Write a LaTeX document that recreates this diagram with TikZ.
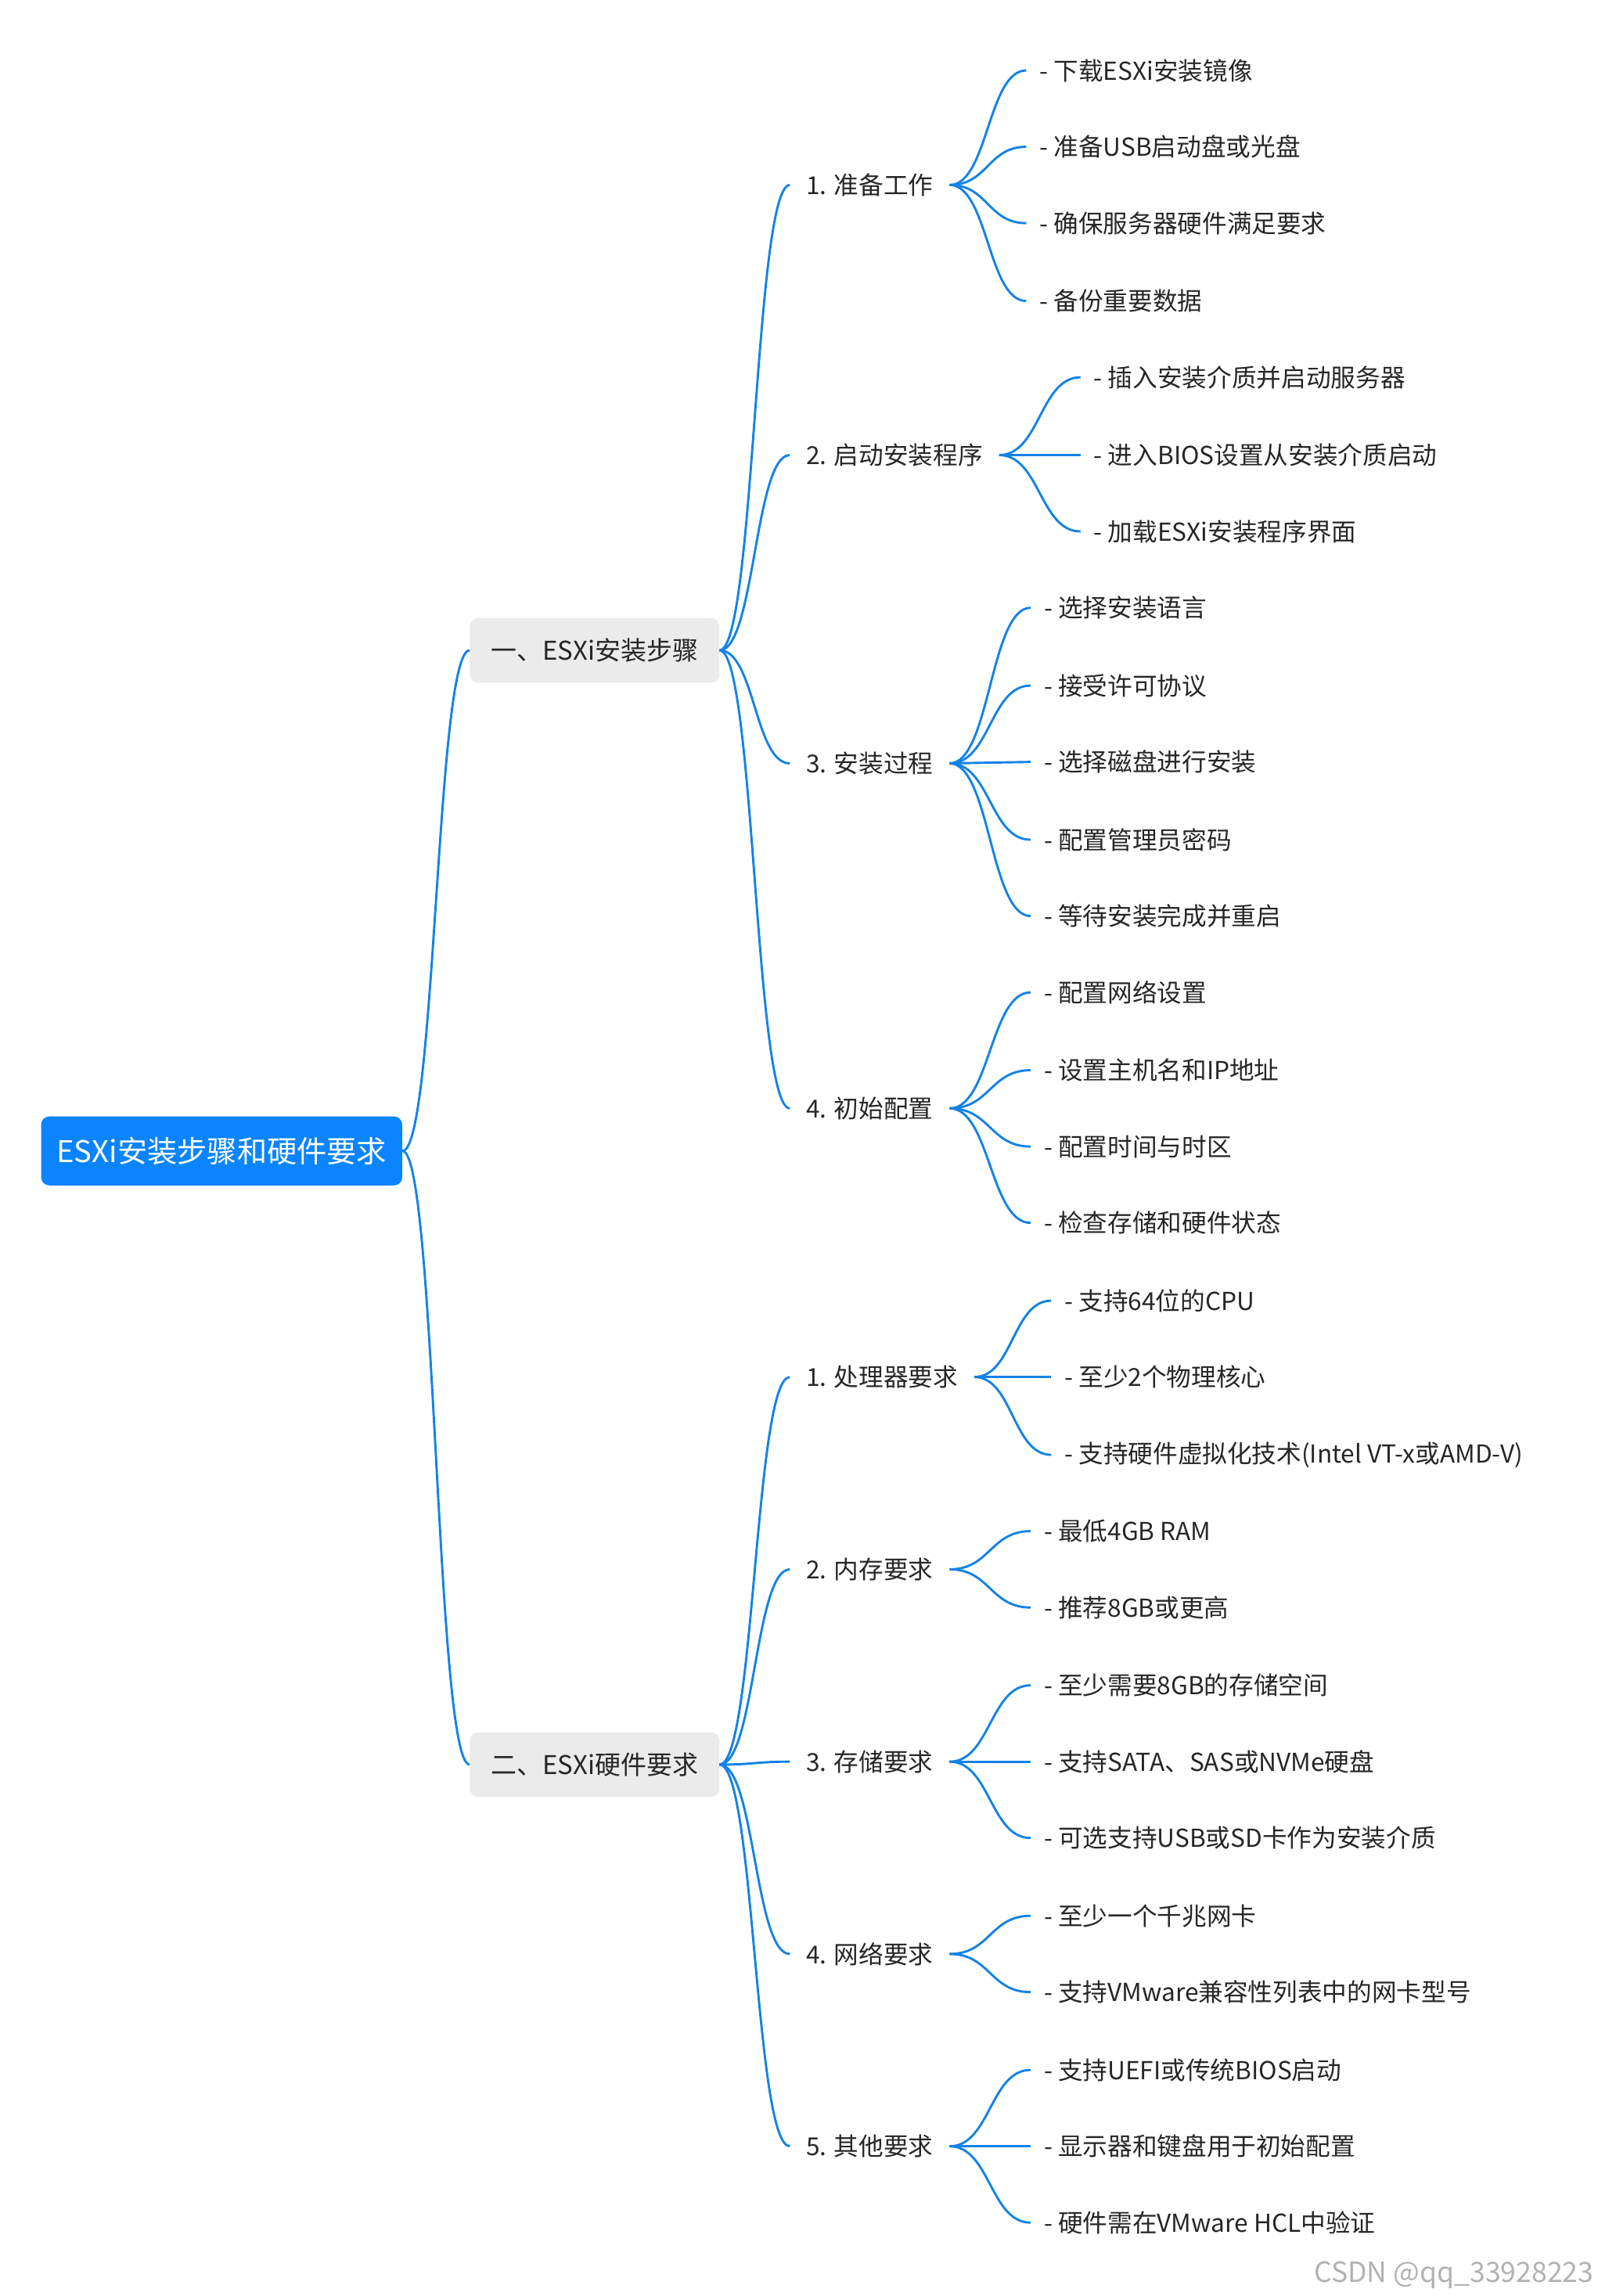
\documentclass[tikz,border=0pt]{standalone}
\usepackage{fontspec}
\setmainfont{Noto Sans CJK SC}
\usetikzlibrary{calc}
\definecolor{lc}{RGB}{20,130,230}
\definecolor{rootc}{RGB}{10,132,255}
\definecolor{l1c}{RGB}{235,235,235}
\tikzset{
 conn/.style={draw=lc,line width=2.2pt},
 rootbox/.style={fill=rootc,rounded corners=8pt,text=white,minimum width=12.3cm,minimum height=2.35cm,font=\fontsize{29}{34}\selectfont},
 lonebox/.style={fill=l1c,rounded corners=8pt,text=black!85,minimum width=8.5cm,minimum height=2.2cm,font=\fontsize{25}{30}\selectfont},
 ltwo/.style={anchor=west,inner sep=0.55cm,font=\fontsize{24}{30}\selectfont,text=black!85},
 leaf/.style={anchor=west,inner sep=0.45cm,font=\fontsize{24}{30}\selectfont,text=black!85}
}
\newcommand\cn[2]{\draw[conn] let \p1=(#1.east), \p2=(#2.west) in (\p1) .. controls ({\x1/2+\x2/2},\y1) and ({\x1/2+\x2/2},\y2) .. (\p2);}
\begin{document}
\begin{tikzpicture}[x=0.05cm,y=-0.05cm]
\useasboundingbox (0,0) rectangle (1088,1564);
\node[rootbox] (r) at (151,784) {ESXi安装步骤和硬件要求};
\node[lonebox] (a) at (405,443) {一、ESXi安装步骤};
\node[lonebox] (b) at (405,1202) {二、ESXi硬件要求};
\cn{r}{a}\cn{r}{b}
% level 2
\node[ltwo] (a1) at (538,126) {1. 准备工作};
\node[ltwo] (a2) at (538,310) {2. 启动安装程序};
\node[ltwo] (a3) at (538,520) {3. 安装过程};
\node[ltwo] (a4) at (538,755) {4. 初始配置};
\node[ltwo] (b1) at (538,938) {1. 处理器要求};
\node[ltwo] (b2) at (538,1069) {2. 内存要求};
\node[ltwo] (b3) at (538,1200) {3. 存储要求};
\node[ltwo] (b4) at (538,1331) {4. 网络要求};
\node[ltwo] (b5) at (538,1462) {5. 其他要求};
\foreach \i in {1,...,4}{\cn{a}{a\i}}
\foreach \i in {1,...,5}{\cn{b}{b\i}}
% leaves
\node[leaf] (a11) at (699,48) {- 下载ESXi安装镜像};
\node[leaf] (a12) at (699,100) {- 准备USB启动盘或光盘};
\node[leaf] (a13) at (699,152) {- 确保服务器硬件满足要求};
\node[leaf] (a14) at (699,205) {- 备份重要数据};
\foreach \i in {1,...,4}{\cn{a1}{a1\i}}
\node[leaf] (a21) at (736,257) {- 插入安装介质并启动服务器};
\node[leaf] (a22) at (736,310) {- 进入BIOS设置从安装介质启动};
\node[leaf] (a23) at (736,362) {- 加载ESXi安装程序界面};
\foreach \i in {1,...,3}{\cn{a2}{a2\i}}
\node[leaf] (a31) at (702,414) {- 选择安装语言};
\node[leaf] (a32) at (702,467) {- 接受许可协议};
\node[leaf] (a33) at (702,519) {- 选择磁盘进行安装};
\node[leaf] (a34) at (702,572) {- 配置管理员密码};
\node[leaf] (a35) at (702,624) {- 等待安装完成并重启};
\foreach \i in {1,...,5}{\cn{a3}{a3\i}}
\node[leaf] (a41) at (702,676) {- 配置网络设置};
\node[leaf] (a42) at (702,729) {- 设置主机名和IP地址};
\node[leaf] (a43) at (702,781) {- 配置时间与时区};
\node[leaf] (a44) at (702,833) {- 检查存储和硬件状态};
\foreach \i in {1,...,4}{\cn{a4}{a4\i}}
\node[leaf] (b11) at (716,886) {- 支持64位的CPU};
\node[leaf] (b12) at (716,938) {- 至少2个物理核心};
\node[leaf] (b13) at (716,991) {- 支持硬件虚拟化技术(Intel VT-x或AMD-V)};
\foreach \i in {1,...,3}{\cn{b1}{b1\i}}
\node[leaf] (b21) at (702,1043) {- 最低4GB RAM};
\node[leaf] (b22) at (702,1095) {- 推荐8GB或更高};
\foreach \i in {1,2}{\cn{b2}{b2\i}}
\node[leaf] (b31) at (702,1148) {- 至少需要8GB的存储空间};
\node[leaf] (b32) at (702,1200) {- 支持SATA、SAS或NVMe硬盘};
\node[leaf] (b33) at (702,1252) {- 可选支持USB或SD卡作为安装介质};
\foreach \i in {1,...,3}{\cn{b3}{b3\i}}
\node[leaf] (b41) at (702,1305) {- 至少一个千兆网卡};
\node[leaf] (b42) at (702,1357) {- 支持VMware兼容性列表中的网卡型号};
\foreach \i in {1,2}{\cn{b4}{b4\i}}
\node[leaf] (b51) at (702,1410) {- 支持UEFI或传统BIOS启动};
\node[leaf] (b52) at (702,1462) {- 显示器和键盘用于初始配置};
\node[leaf] (b53) at (702,1514) {- 硬件需在VMware HCL中验证};
\foreach \i in {1,...,3}{\cn{b5}{b5\i}}
\node[anchor=east,text=black!30,font=\fontsize{27}{30}\selectfont] (wm) at (1088,1550) {CSDN @qq\_33928223};
\end{tikzpicture}
\end{document}
